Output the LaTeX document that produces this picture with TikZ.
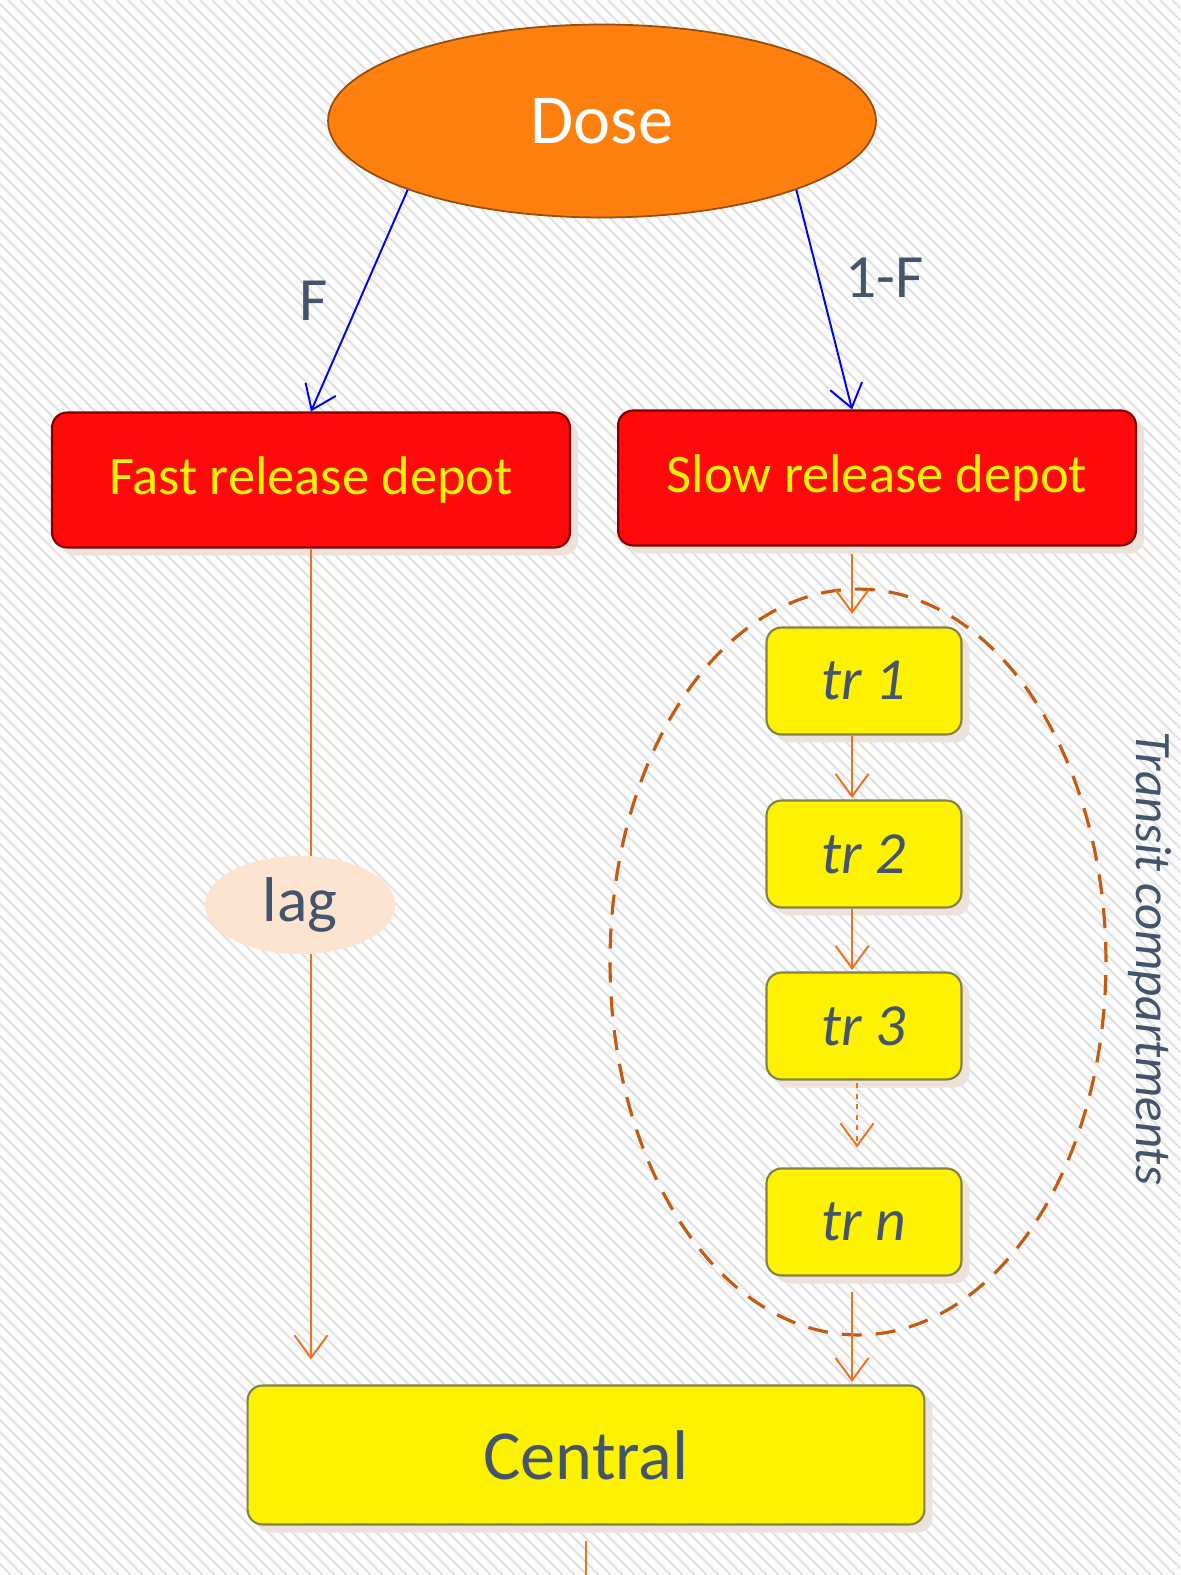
\documentclass[tikz,border=0pt]{standalone}
\usepackage{fontspec}
\setmainfont{Carlito}
\usepackage{tikz}
\usetikzlibrary{shapes.geometric,arrows.meta,shadows}
\definecolor{slate}{RGB}{68,84,106}
\definecolor{doseorange}{RGB}{255,128,14}
\definecolor{depotred}{RGB}{255,10,10}
\definecolor{flowline}{RGB}{242,112,30}
\definecolor{ringbrown}{RGB}{197,90,17}
\definecolor{lagpeach}{RGB}{253,228,208}
\definecolor{shadowbeige}{RGB}{236,226,218}
\definecolor{stripe}{RGB}{226,226,226}
\tikzset{
  boxshadow/.style={drop shadow={shadow xshift=0.16cm,shadow yshift=-0.16cm,fill=shadowbeige,opacity=1}},
  depot/.style={rectangle,rounded corners=0.3cm,fill=depotred,draw=red!50!black,line width=1.2pt,
    minimum width=10.36cm,minimum height=2.7cm,text=yellow,font=\fontsize{31}{36}\selectfont,boxshadow},
  transit/.style={rectangle,rounded corners=0.3cm,fill=yellow,draw=yellow!45!black,line width=1.2pt,
    minimum width=3.9cm,minimum height=2.14cm,text=slate,font=\fontsize{34}{40}\selectfont\itshape,boxshadow},
  flow/.style={flowline,line width=1.1pt,-{Straight Barb[length=0.45cm,width=0.66cm]}},
  split/.style={blue,line width=1.1pt,-{Straight Barb[length=0.45cm,width=0.66cm]}},
  flowlabel/.style={text=slate,font=\fontsize{35}{40}\selectfont}
}
\begin{document}
\begin{tikzpicture}[x=0.02cm,y=-0.02cm]
  \useasboundingbox (0,0) rectangle (1180,1575);
  \fill[gray!3] (0,0) rectangle (1180,1575);
  \begin{scope}
    \clip (0,0) rectangle (1180,1575);
    \foreach \k in {-1600,-1588,...,1180}
      \draw[stripe,line width=1.1pt] (\k,0) -- ({\k+1575},1575);
  \end{scope}

  \node[ellipse,fill=doseorange,draw=doseorange!60!black,line width=1pt,minimum width=10.96cm,minimum height=3.86cm,
    text=white,font=\fontsize{40}{46}\selectfont] (dose) at (602,121) {Dose};
  \node[depot] (fast) at (311,480) {Fast release depot};
  \node[depot] (slow) at (877,478) {Slow release depot};
  \node[ellipse,fill=lagpeach,minimum width=3.8cm,minimum height=1.96cm,text=slate,
    font=\fontsize{36}{40}\selectfont] (lag) at (300,905) {lag};
  \node[transit] (tr1) at (864,681) {tr 1};
  \node[transit] (tr2) at (864,854) {tr 2};
  \node[transit] (tr3) at (864,1026) {tr 3};
  \node[transit] (trn) at (864,1222) {tr n};
  \node[rectangle,rounded corners=0.3cm,fill=yellow,draw=yellow!45!black,line width=1.2pt,minimum width=13.54cm,
    minimum height=2.78cm,text=slate,font=\fontsize{40}{46}\selectfont,boxshadow] (central) at (586,1455) {Central};
  \node[draw=ringbrown,dashed,dash pattern=on 0.4cm off 0.28cm,line width=1.8pt,ellipse,minimum width=9.92cm,
    minimum height=14.92cm] (ring) at (858,962) {};
  \node[rotate=-90,text=slate,font=\fontsize{29}{34}\selectfont\itshape] (ringlabel) at (1150,958) {Transit compartments};

  \draw[split] (dose.south west) -- (fast.north) node[midway,left=0.5cm,flowlabel] {F};
  \draw[split] (dose.south east) -- (slow.110) node[pos=0.4,right=0.4cm,flowlabel] {1-F};
  \draw[flowline,line width=1.1pt] (fast.south) -- (fast.south |- lag.north);
  \draw[flow,shorten >=0.5cm] (fast.south |- lag.south) -- (fast.south |- central.north);
  \draw[flow,shorten <=0.15cm,shorten >=0.25cm] (slow.110 |- slow.south) -- (slow.110 |- tr1.north);
  \draw[flow,shorten >=0.03cm] (slow.110 |- tr1.south) -- (slow.110 |- tr2.north);
  \draw[flow,shorten >=0.03cm] (slow.110 |- tr2.south) -- (slow.110 |- tr3.north);
  \draw[flow,dashed,shorten <=0.05cm,shorten >=0.4cm] ([xshift=-0.14cm]tr3.south) -- ([xshift=-0.14cm]trn.north);
  \draw[flow,shorten <=0.3cm,shorten >=0.05cm] (slow.110 |- trn.south) -- (slow.110 |- central.north);
  \draw[flowline,line width=1.1pt,shorten <=0.3cm] (central.south) -- (central.south |- 0,1575);
\end{tikzpicture}
\end{document}
